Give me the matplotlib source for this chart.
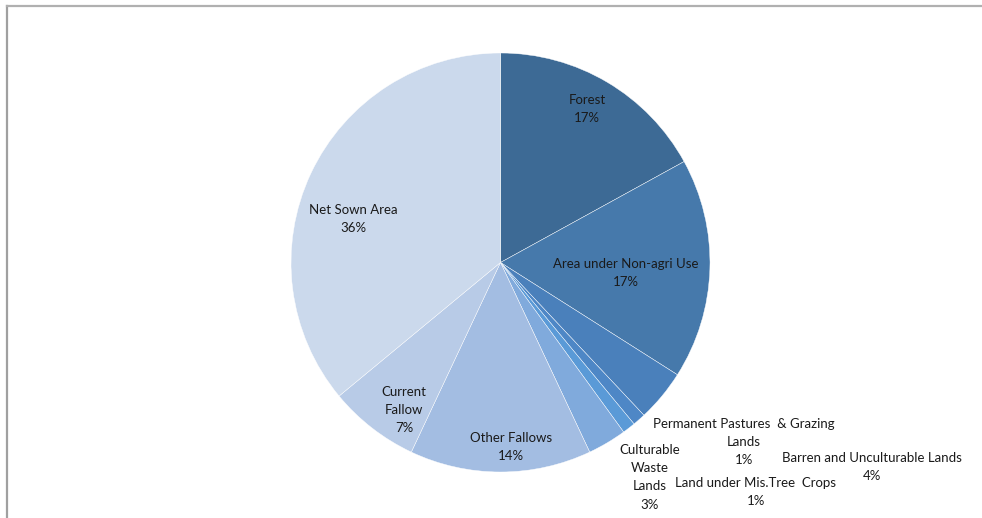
import matplotlib
matplotlib.use("Agg")
import matplotlib.pyplot as plt
from matplotlib.lines import Line2D

# land use shares, clockwise from 12 o'clock
categories = ["Forest", "Area under Non-agri Use", "Barren and Unculturable Lands",
              "Permanent Pastures & Grazing Lands", "Land under Mis.Tree Crops",
              "Culturable Waste Lands", "Other Fallows", "Current Fallow", "Net Sown Area"]
shares = [17, 17, 4, 1, 1, 3, 14, 7, 36]
label_lines = [["Forest"], ["Area under Non-agri Use"], ["Barren and Unculturable Lands"],
               ["Permanent Pastures  & Grazing", "Lands"], ["Land under Mis.Tree  Crops"],
               ["Culturable", "Waste", "Lands"], ["Other Fallows"], ["Current", "Fallow"],
               ["Net Sown Area"]]

colors = ["#3d6a95", "#4679ab", "#4a80bb", "#4e87c6", "#5a9ad7",
          "#80aadc", "#a3bde2", "#b8cbe7", "#cbd9ec"]

# centre of the first label line (pixel coords, y from top)
label_pos = [(587, 100), (626, 264), (872, 458), (744, 424), (756, 483),
             (650, 450), (511, 438), (404, 392), (353, 210)]
line_step = 18.2

W, H = 982, 518
fig = plt.figure(figsize=(W / 100, H / 100), dpi=100)
ax = fig.add_axes([0, 0, 1, 1])

cx, cy, r = 500.5, H - 262.5, 209.5
ax.pie(shares, colors=colors, startangle=90, counterclock=False,
       center=(cx, cy), radius=r, frame=True,
       wedgeprops=dict(edgecolor="white", linewidth=0.3))
ax.set_xlim(0, W)
ax.set_ylim(0, H)
ax.set_aspect("equal")
ax.axis("off")

# one text per line so the label blocks stay compact
for lines, val, (x, y) in zip(label_lines, shares, label_pos):
    for i, s in enumerate(lines + [f"{val}%"]):
        ax.text(x, H - (y + i * line_step), s, ha="center", va="center",
                fontsize=9.5, family="Lato", color="#1a1a1a")

# chart area border (top and left edges only)
fig.add_artist(Line2D([6.5 / W, 6.5 / W], [0, 1 - 6 / H], transform=fig.transFigure,
                      color="#a0a0a0", linewidth=1.6))
fig.add_artist(Line2D([6.5 / W, 1], [1 - 6 / H, 1 - 6 / H], transform=fig.transFigure,
                      color="#b0b0b0", linewidth=1.6))

fig.savefig("out.png", dpi=100, facecolor="white")
